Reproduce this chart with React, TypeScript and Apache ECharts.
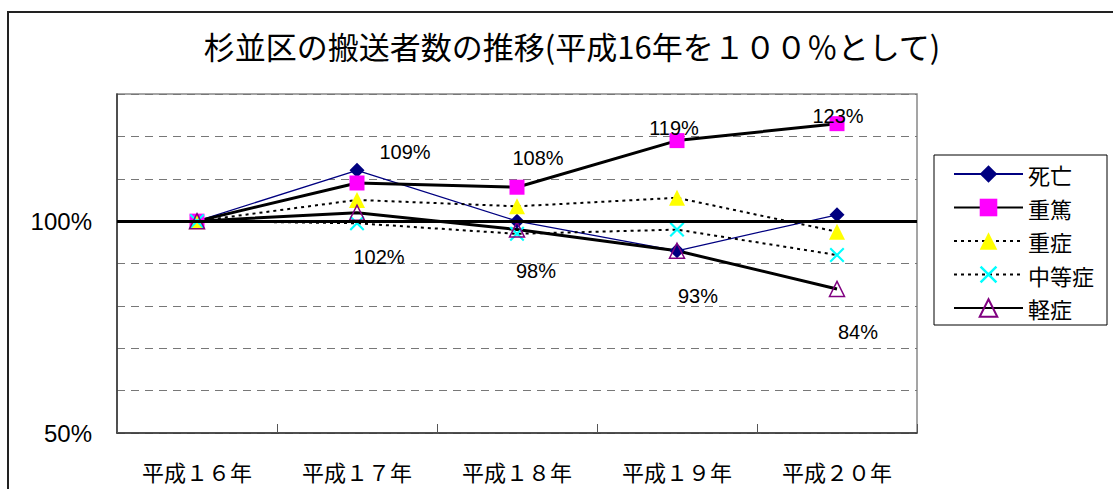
import React, { useEffect, useRef } from "react";
import * as echarts from "echarts";

const TITLE = "杉並区の搬送者数の推移(平成16年を１００％として)";
const categories = ["平成１６年", "平成１７年", "平成１８年", "平成１９年", "平成２０年"];
const seriesNames = ["死亡", "重篤", "重症", "中等症", "軽症"];
const shibou = [100, 112, 100, 93, 101.5];
const juutoku = [100, 109, 108, 119, 123];
const juushou = [100, 105, 103.5, 105.5, 97.5];
const chuutoushou = [100, 99.5, 97, 98, 92];
const keishou = [100, 102, 98, 93, 84];
const yTicksShown = [50, 100];

// label offsets (pixels) relative to the point
const juutokuLabelOffsets = [null, [48, -31], [21, -29], [-3, -13], [1, -8]];
const keishouLabelOffsets = [null, [22, 44], [19, 41], [21, 45], [21, 43]];

const LATIN = "'Liberation Sans', Arial, 'Noto Sans CJK JP', sans-serif";
const CJK = "'Noto Sans CJK JP', 'Liberation Sans', sans-serif";

const CROSS = "path://M0,1L1,0L10,9L9,10Z M9,0L10,1L1,10L0,9Z";

function labeled(values: number[], offsets: any[]) {
  return values.map((v, i) =>
    offsets[i]
      ? {
          value: v,
          label: {
            show: true,
            position: "inside",
            offset: offsets[i],
            formatter: Math.round(v) + "%",
            fontSize: 20,
            color: "#000",
            fontFamily: LATIN,
          },
        }
      : { value: v }
  );
}

export default function App() {
  const ref = useRef<HTMLDivElement>(null);
  useEffect(() => {
    document.body.style.margin = "0";
    const chart = echarts.init(ref.current!, null, { renderer: "svg" });
    chart.setOption({
      animation: false,
      backgroundColor: "#fff",
      graphic: [
        {
          type: "rect",
          shape: { x: 8, y: 12, width: 1200, height: 600 },
          style: { fill: "none", stroke: "#222", lineWidth: 2 },
          silent: true,
        },
        {
          type: "text",
          x: 572,
          y: 45,
          style: {
            text: TITLE,
            fontSize: 31,
            fontFamily: CJK,
            fill: "#000",
            textAlign: "center",
            textVerticalAlign: "middle",
          },
        },
      ],
      grid: {
        left: 117,
        right: 196,
        top: 94,
        bottom: 56,
        show: true,
        borderColor: "#888",
        borderWidth: 1.5,
        backgroundColor: "#fff",
      },
      legend: {
        orient: "vertical",
        left: 934,
        top: 155,
        data: seriesNames,
        itemWidth: 69,
        itemHeight: 22,
        itemGap: 11.5,
        padding: [8, 13, 6, 19],
        borderColor: "#000",
        borderWidth: 1,
        backgroundColor: "#fff",
        textStyle: { fontSize: 22, color: "#000", fontFamily: CJK, lineHeight: 22 },
      },
      xAxis: {
        type: "category",
        data: categories,
        boundaryGap: true,
        axisLine: { lineStyle: { color: "#333", width: 1.5 } },
        axisTick: { show: true, inside: true, length: 9, lineStyle: { color: "#555" } },
        axisLabel: {
          fontSize: 22,
          lineHeight: 22,
          color: "#000",
          margin: 27,
          interval: 0,
          fontFamily: CJK,
        },
        splitLine: { show: false },
      },
      yAxis: {
        type: "value",
        min: 50,
        max: 130,
        interval: 10,
        axisLine: { show: true, lineStyle: { color: "#333", width: 1.5 } },
        axisTick: { show: false },
        axisLabel: {
          fontSize: 24,
          color: "#000",
          margin: 25,
          fontFamily: LATIN,
          padding: [10, 0, 0, 0],
          formatter: (v: number) => (yTicksShown.includes(v) ? v + "%" : ""),
        },
        splitLine: { show: true, lineStyle: { color: "#777", type: [8, 6], width: 1.2 } },
      },
      series: [
        {
          name: seriesNames[0],
          type: "line",
          data: shibou,
          symbol: "diamond",
          symbolSize: 15,
          itemStyle: { color: "#000080" },
          lineStyle: { color: "#000080", width: 1.3 },
          markLine: {
            silent: true,
            symbol: "none",
            label: { show: false },
            lineStyle: { color: "#000", width: 3, type: "solid" },
            data: [{ yAxis: 100 }],
          },
        },
        {
          name: seriesNames[1],
          type: "line",
          data: labeled(juutoku, juutokuLabelOffsets),
          symbol: "rect",
          symbolSize: 15,
          itemStyle: { color: "#FF00FF" },
          lineStyle: { color: "#000", width: 3 },
        },
        {
          name: seriesNames[2],
          type: "line",
          data: juushou,
          symbol: "triangle",
          symbolSize: 16,
          itemStyle: { color: "#FFFF00" },
          lineStyle: { color: "#000", width: 2, type: [3, 4] },
        },
        {
          name: seriesNames[3],
          type: "line",
          data: chuutoushou,
          symbol: CROSS,
          symbolSize: 15,
          itemStyle: { color: "#00FFFF" },
          lineStyle: { color: "#000", width: 2, type: [3, 4] },
        },
        {
          name: seriesNames[4],
          type: "line",
          data: labeled(keishou, keishouLabelOffsets),
          symbol: "triangle",
          symbolSize: 15,
          itemStyle: { color: "rgba(255,255,255,0)", borderColor: "#800080", borderWidth: 1.5 },
          lineStyle: { color: "#000", width: 3 },
        },
      ],
    });
    return () => chart.dispose();
  }, []);
  return <div ref={ref} style={{ width: 1113, height: 489 }} />;
}
